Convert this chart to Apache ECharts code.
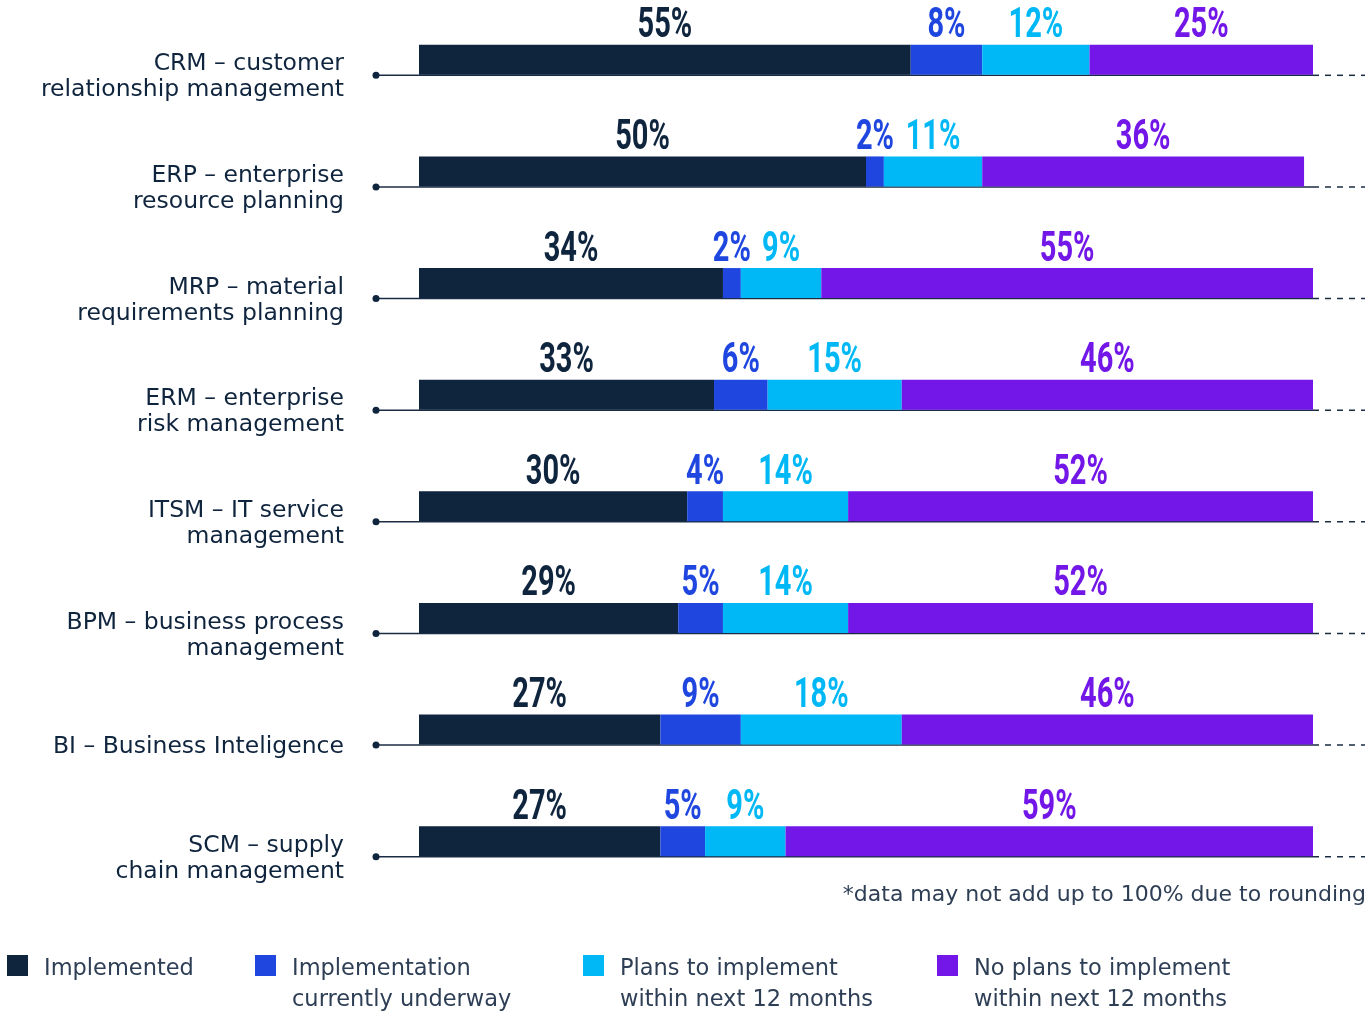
<!DOCTYPE html>
<html>
<head>
<meta charset="utf-8">
<script src="https://cdn.jsdelivr.net/npm/echarts@6/dist/echarts.min.js"></script>
<style>
  html, body { margin: 0; padding: 0; background: #ffffff; }
  #chart { width: 1372px; height: 1017px; }
</style>
</head>
<body>
<div id="chart"></div>
<script>
// Software adoption by category (share of respondents, %)
const categories = [
  'CRM – customer\nrelationship management',
  'ERP – enterprise\nresource planning',
  'MRP – material\nrequirements planning',
  'ERM – enterprise\nrisk management',
  'ITSM – IT service\nmanagement',
  'BPM – business process\nmanagement',
  'BI – Business Inteligence',
  'SCM – supply\nchain management'
];
const implemented = [55, 50, 34, 33, 30, 29, 27, 27];
const underway    = [8, 2, 2, 6, 4, 5, 9, 5];
const plans       = [12, 11, 9, 15, 14, 14, 18, 9];
const noPlans     = [25, 36, 55, 46, 52, 52, 46, 59];

const seriesNames = [
  'Implemented',
  'Implementation\ncurrently underway',
  'Plans to implement\nwithin next 12 months',
  'No plans to implement\nwithin next 12 months'
];
const seriesColors = ['#0f243d', '#1f47e0', '#00b8f5', '#7217e8'];
const footnote = '*data may not add up to 100% due to rounding';

const BAR_W = 30;
const textFont = '"DejaVu Sans", Arial, sans-serif';
const valueFont = 'bold 42px Roboto, "Liberation Sans", sans-serif';

const chart = echarts.init(document.getElementById('chart'), null, { renderer: 'canvas' });

const allSeries = [implemented, underway, plans, noPlans];

function barSeries(name, data, color) {
  return {
    name: name,
    type: 'bar',
    stack: 'total',
    barWidth: BAR_W,
    data: data,
    itemStyle: { color: color },
    z: 3
  };
}

// Value labels above each segment: [segment start, value, category index, series index]
const labelData = [];
categories.forEach((c, i) => {
  let start = 0;
  allSeries.forEach((arr, s) => {
    labelData.push([start, arr[i], i, s]);
    start += arr[i];
  });
});

const labelSeries = {
  type: 'custom',
  name: 'values',
  silent: true,
  z: 4,
  data: labelData,
  encode: { x: 0, y: 2 },
  renderItem: function (params, api) {
    const start = api.value(0);
    const val = api.value(1);
    const idx = api.value(2);
    const s = api.value(3);
    const p = api.coord([start + val / 2, idx]);
    const barTop = p[1] - BAR_W / 2;
    return {
      type: 'text',
      x: p[0],
      y: barTop - 18,
      scaleX: 0.69,
      style: {
        text: val + '%',
        x: 0,
        y: 0,
        fill: seriesColors[s],
        font: valueFont,
        align: 'center',
        verticalAlign: 'middle',
        textAlign: 'center',
        textVerticalAlign: 'middle'
      }
    };
  }
};

// Baseline under each bar: dot on the left, solid rule, dashed tail past 100%
const baselineSeries = {
  type: 'custom',
  name: 'baseline',
  silent: true,
  z: 2,
  data: categories.map((c, i) => [100, i]),
  renderItem: function (params, api) {
    const idx = api.value(1);
    const start = api.coord([0, idx]);
    const end = api.coord([100, idx]);
    const y = start[1] + BAR_W / 2 + 0.5;
    const dotX = start[0] - 43;
    return {
      type: 'group',
      children: [
        { type: 'line', shape: { x1: dotX, y1: y, x2: end[0], y2: y },
          style: { stroke: '#1a2c44', lineWidth: 1.5 } },
        { type: 'line', shape: { x1: end[0], y1: y, x2: end[0] + 52, y2: y },
          style: { stroke: '#1a2c44', lineWidth: 1.5, lineDash: [6, 6] } },
        { type: 'circle', shape: { cx: dotX, cy: y, r: 3.5 }, style: { fill: '#0f243d' } }
      ]
    };
  }
};

// Legend: swatch plus (possibly two-line) caption
const legendLeft = [7, 255, 583, 937];
const legendGraphics = seriesNames.map((name, k) => ({
  type: 'group',
  left: legendLeft[k],
  top: 954,
  children: [
    { type: 'rect', shape: { x: 0, y: 1, width: 21, height: 21 }, style: { fill: seriesColors[k] } },
    { type: 'text', x: 37, y: 0,
      style: { text: name, fill: '#2d3e55', font: '22.5px ' + textFont, lineHeight: 31,
               verticalAlign: 'top', align: 'left' } }
  ]
}));

const option = {
  backgroundColor: '#ffffff',
  animation: false,
  grid: { left: 419, right: 59, top: 4, height: 893, containLabel: false },
  xAxis: {
    type: 'value',
    min: 0,
    max: 100,
    show: false
  },
  yAxis: {
    type: 'category',
    inverse: true,
    data: categories,
    axisLine: { show: false },
    axisTick: { show: false },
    splitLine: { show: false },
    axisLabel: {
      margin: 75,
      align: 'right',
      formatter: function (v) {
        return '{g| }\n' + v.split('\n').map(l => '{t|' + l + '}').join('\n');
      },
      rich: {
        g: { fontSize: 1, lineHeight: 35, height: 35 },
        t: { color: '#0f243d', fontFamily: textFont, fontSize: 23.5, lineHeight: 26, align: 'right' }
      }
    }
  },
  graphic: [
    {
      type: 'text',
      right: 6,
      top: 884,
      style: {
        text: footnote,
        fill: '#2d3e55',
        font: '22px ' + textFont
      }
    }
  ].concat(legendGraphics),
  series: [
    baselineSeries,
    barSeries(seriesNames[0], implemented, seriesColors[0]),
    barSeries(seriesNames[1], underway, seriesColors[1]),
    barSeries(seriesNames[2], plans, seriesColors[2]),
    barSeries(seriesNames[3], noPlans, seriesColors[3]),
    labelSeries
  ]
};

chart.setOption(option);
</script>
</body>
</html>
